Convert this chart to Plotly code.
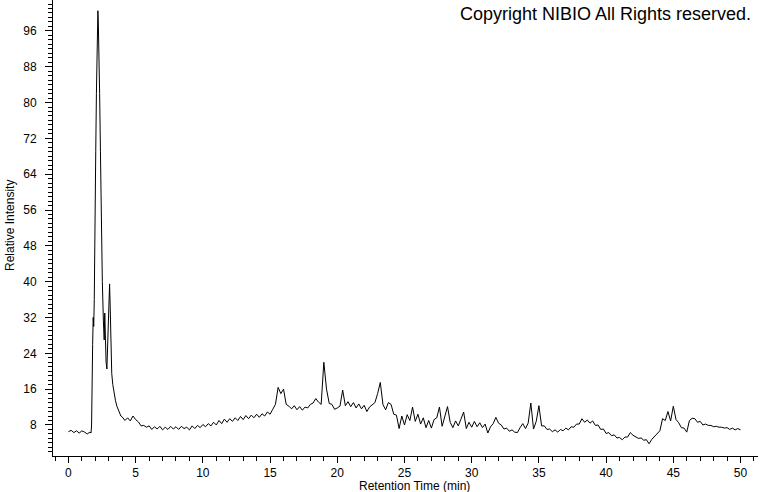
import plotly.graph_objects as go

# ---- Data ----
# Segment A: baseline before the main peak (0.0 - 1.6 min)
time_start = [0.0, 0.2, 0.4, 0.6, 0.8, 1.0, 1.2, 1.4, 1.6]
int_start = [6.5, 6.8, 6.3, 6.7, 6.2, 6.7, 6.4, 6.0, 6.4]

# Segment B: main peak region (explicit times)
time_peak = [1.68, 1.72, 1.76, 1.80, 1.84, 1.88, 1.92, 1.98, 2.03, 2.08, 2.12, 2.16,
             2.19, 2.22, 2.26, 2.32, 2.38, 2.45, 2.52, 2.60, 2.66, 2.70, 2.74, 2.80,
             2.86, 2.92, 2.97, 3.02, 3.06, 3.10, 3.15, 3.22, 3.30, 3.40, 3.50, 3.60,
             3.70, 3.80, 3.90]
int_peak = [6.2, 8.0, 24.0, 26.0, 32.0, 30.0, 36.0, 48.0, 69.0, 82.0, 91.0, 98.0,
            100.5, 98.0, 93.0, 82.0, 69.0, 52.0, 40.0, 31.0, 27.0, 33.0, 26.0, 22.0,
            20.5, 27.0, 33.0, 38.0, 39.5, 35.0, 26.0, 19.5, 17.0, 15.0, 13.4, 12.2,
            11.3, 10.5, 10.0]

# Segment C: 4.0 - 50.0 min, every 0.2 min (each row = 2 min)
grid_start = 4.0
grid_step = 0.2
int_grid = [
    9.8, 9.0, 9.6, 8.9, 10.0, 9.2, 8.7, 7.8, 7.9, 7.5,         # 4.0
    7.8, 7.0, 7.6, 7.1, 7.7, 6.9, 7.5, 7.0, 7.7, 7.1,          # 6.0
    7.6, 7.0, 7.7, 7.2, 7.5, 6.9, 7.8, 7.2, 7.9, 7.4,          # 8.0
    8.1, 7.6, 8.3, 7.8, 8.6, 8.0, 9.0, 8.3, 9.3, 8.6,          # 10.0
    9.4, 8.8, 9.6, 9.0, 9.9, 9.2, 10.1, 9.4, 10.2, 9.6,        # 12.0
    10.4, 9.7, 10.5, 10.0, 10.9, 10.4, 11.5, 12.6, 16.4, 15.0, # 14.0
    16.0, 12.6, 12.2, 11.6, 12.3, 11.4, 12.1, 11.3, 12.0, 11.8,  # 16.0
    12.6, 12.9, 13.9, 13.1, 12.6, 22.0, 16.0, 12.8, 12.6, 11.5,  # 18.0
    11.8, 12.2, 15.8, 12.3, 13.2, 12.1, 13.0, 11.8, 12.7, 11.6,  # 20.0
    12.4, 11.0, 12.0, 12.5, 13.0, 15.0, 17.5, 12.5, 11.4, 13.0,  # 22.0
    12.6, 10.4, 10.2, 7.2, 10.0, 8.0, 10.3, 9.0, 12.0, 8.8,    # 24.0
    10.4, 8.2, 9.6, 7.4, 9.0, 7.3, 9.2, 9.6, 12.0, 7.7,        # 26.0
    9.8, 12.1, 8.6, 7.4, 8.9, 7.8, 9.3, 10.9, 7.2, 8.6,        # 28.0
    7.5, 8.8, 7.6, 8.5, 7.4, 8.2, 6.2, 7.6, 8.3, 9.7,          # 30.0
    8.4, 8.0, 7.1, 7.3, 6.6, 6.9, 6.4, 6.3, 7.4, 8.3,          # 32.0
    7.2, 8.4, 12.9, 7.1, 8.8, 12.3, 7.8, 7.8, 7.0, 7.1,        # 34.0
    6.5, 6.9, 6.4, 7.0, 6.7, 7.3, 6.9, 7.6, 7.5, 8.2,          # 36.0
    8.2, 9.4, 8.6, 9.1, 8.4, 8.9, 7.9, 8.0, 7.0, 7.1,          # 38.0
    6.1, 6.3, 5.6, 5.8, 5.1, 5.2, 4.7, 5.3, 5.3, 6.3,          # 40.0
    5.7, 5.3, 5.0, 5.1, 4.6, 4.7, 3.8, 4.8, 5.5, 6.1,          # 42.0
    6.7, 9.4, 9.0, 11.0, 8.9, 12.2, 9.2, 8.5, 7.4, 7.3,        # 44.0
    6.4, 9.0, 9.5, 9.4, 8.6, 8.8, 8.0, 8.2, 7.9, 7.9,          # 46.0
    7.6, 7.7, 7.5, 7.5, 7.3, 7.4, 7.0, 7.3, 6.9, 7.2,          # 48.0
    6.9,                                                       # 50.0
]
time_grid = [round(grid_start + grid_step * i, 2) for i in range(len(int_grid))]

retention_time = time_start + time_peak + time_grid
intensity = int_start + int_peak + int_grid

x_ticks = [0, 5, 10, 15, 20, 25, 30, 35, 40, 45, 50]
y_ticks = [8, 16, 24, 32, 40, 48, 56, 64, 72, 80, 88, 96]

FONT = "Liberation Sans, Arial, sans-serif"

fig = go.Figure()
fig.add_trace(go.Scatter(
    x=retention_time, y=intensity, mode="lines",
    line=dict(color="black", width=1), hoverinfo="skip", showlegend=False,
))

axis_common = dict(
    showgrid=False, zeroline=False, showline=True, linecolor="black", linewidth=1,
    ticks="outside", tickcolor="black", tickwidth=1, automargin=False,
    tickfont=dict(family=FONT, size=12, color="black"),
)

fig.update_layout(
    width=760, height=492,
    margin=dict(l=53, r=2, t=0, b=36, autoexpand=False),
    paper_bgcolor="white", plot_bgcolor="white",
    xaxis=dict(
        range=[-1.15, 51.3], tickvals=x_ticks, ticklen=6,
        minor=dict(dtick=1, tick0=0, ticks="outside", ticklen=4, tickcolor="black", showgrid=False),
        ticklabelstandoff=0,
        **axis_common,
    ),
    yaxis=dict(
        range=[1.07, 102.9], tickvals=y_ticks, ticklen=7,
        minor=dict(dtick=1, tick0=0, ticks="outside", ticklen=4, tickcolor="black", showgrid=False),
        ticklabelstandoff=6,
        **axis_common,
    ),
    annotations=[
        dict(text="Copyright NIBIO All Rights reserved.", xref="paper", yref="paper",
             x=(753 - 53) / 705, y=1 - 14 / 456, xanchor="right", yanchor="middle",
             showarrow=False, font=dict(family=FONT, size=18, color="black")),
        dict(text="Relative Intensity", xref="paper", yref="paper",
             x=(10 - 53) / 705, y=1 - 226 / 456, xanchor="center", yanchor="middle",
             textangle=-90, showarrow=False, font=dict(family=FONT, size=12, color="black")),
        dict(text="Retention Time (min)", xref="paper", yref="paper",
             x=(414 - 53) / 705, y=-(486 - 456) / 456, xanchor="center", yanchor="middle",
             showarrow=False, font=dict(family=FONT, size=12, color="black")),
    ],
)

fig.write_html("out.html", config={"displayModeBar": False},
               post_script="document.body.style.margin='0';")
